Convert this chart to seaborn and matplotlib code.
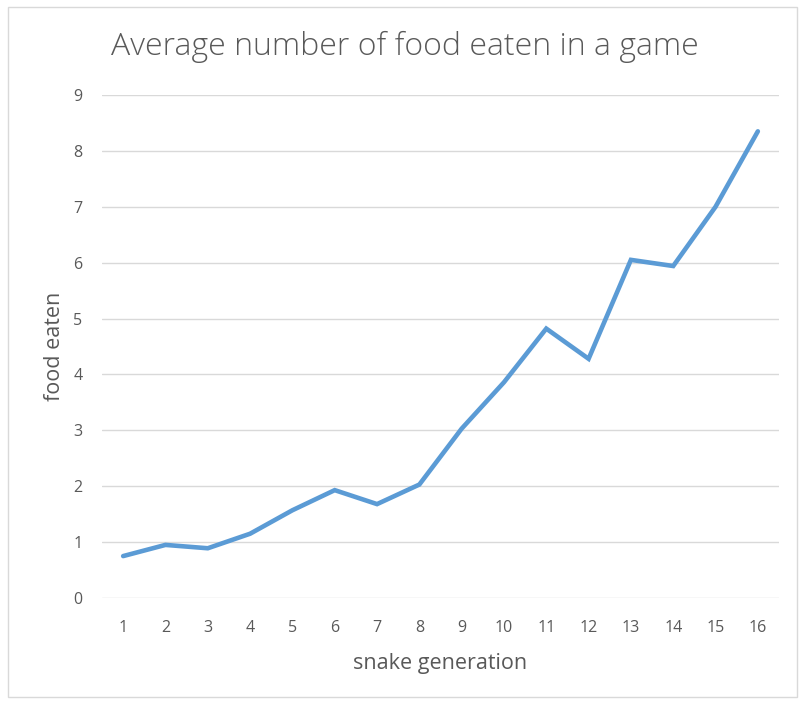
import matplotlib
matplotlib.use("Agg")
import matplotlib.pyplot as plt
import seaborn as sns
import pandas as pd
from matplotlib.patches import Rectangle

generations = list(range(1, 17))
food_eaten = [0.75, 0.95, 0.89, 1.15, 1.57, 1.93, 1.68, 2.03,
              3.03, 3.86, 4.82, 4.28, 6.05, 5.94, 7.0, 8.35]
y_ticks = list(range(0, 10))

df = pd.DataFrame({"generation": generations, "food": food_eaten})

sns.set_style("white")
plt.rcParams['font.family'] = ['Open Sans', 'DejaVu Sans']

fig = plt.figure(figsize=(8.04, 7.05), dpi=100)
ax = fig.add_axes([102/804, 1-598/705, 677/804, 503/705])

sns.lineplot(data=df, x="generation", y="food", ax=ax, color="#5B9BD5",
             linewidth=3.3, solid_joinstyle="miter", solid_capstyle="round")

ax.set_xlim(0.5, 16.5)
ax.set_ylim(0, 9)
ax.set_yticks(y_ticks)
ax.set_xticks(generations)
ax.set_xticklabels([str(g) for g in generations])
ax.grid(axis="y", color="#D9D9D9", linewidth=1.0)
ax.set_axisbelow(True)
for s in ax.spines.values():
    s.set_visible(False)
ax.tick_params(axis="both", length=0, labelsize=11.5, labelcolor="#595959")
ax.tick_params(axis="y", pad=14)
ax.tick_params(axis="x", pad=16)

ax.set_xlabel("snake generation", fontsize=15.5, color="#595959", labelpad=12)
ax.set_ylabel("food eaten", fontsize=15.5, color="#595959", labelpad=6)

fig.text(405/804, 1-47/705, "Average number of food eaten in a game",
         ha="center", va="center", fontsize=23, color="#595959", fontweight="light")

fig.patches.append(Rectangle((8/804, 8/705), 789/804, 690/705, transform=fig.transFigure,
                             fill=False, edgecolor="#D9D9D9", linewidth=1))

fig.savefig("out.png", dpi=100)
